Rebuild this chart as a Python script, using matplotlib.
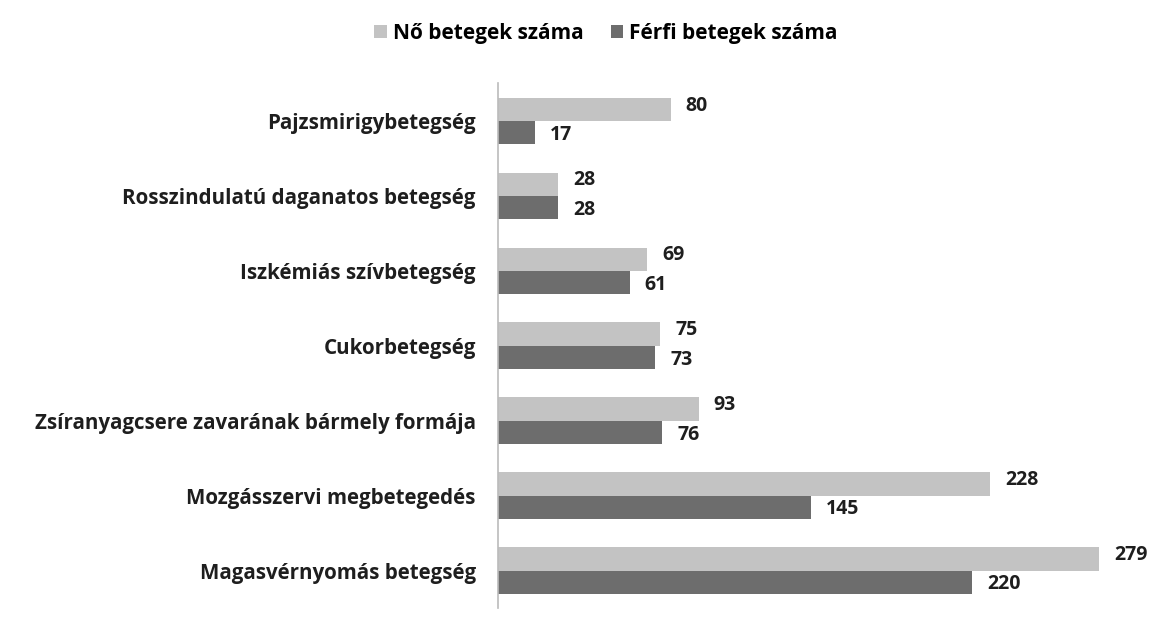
import matplotlib
matplotlib.use("Agg")
import matplotlib.pyplot as plt
import numpy as np

categories = ["Pajzsmirigybetegség", "Rosszindulatú daganatos betegség",
              "Iszkémiás szívbetegség", "Cukorbetegség",
              "Zsíranyagcsere zavarának bármely formája",
              "Mozgásszervi megbetegedés", "Magasvérnyomás betegség"]
female = [80, 28, 69, 75, 93, 228, 279]
male = [17, 28, 61, 73, 76, 145, 220]
series_names = ["Nő betegek száma", "Férfi betegek száma"]

plt.rcParams["font.family"] = ["Open Sans", "DejaVu Sans"]
plt.rcParams["font.weight"] = "bold"

fig = plt.figure(figsize=(11.61, 6.32), dpi=100)
ax = fig.add_axes([0.429, 0.038, 0.557, 0.83])

y = np.arange(len(categories))[::-1]
h = 0.31
c_f, c_m = "#c3c3c3", "#6d6d6d"
ax.barh(y + h / 2, female, height=h, color=c_f, label=series_names[0])
ax.barh(y - h / 2, male, height=h, color=c_m, label=series_names[1])

for yi, v in zip(y, female):
    ax.annotate(str(v), (v, yi + h / 2 + 0.05), xytext=(11, 0), textcoords="offset points",
                va="center", ha="left", fontsize=14, color="#1e1e1e")
for yi, v in zip(y, male):
    ax.annotate(str(v), (v, yi - h / 2 - 0.03), xytext=(11, 0), textcoords="offset points",
                va="center", ha="left", fontsize=14, color="#1e1e1e")

ax.set_yticks(y)
ax.set_yticklabels(categories, fontsize=14.8, color="#1e1e1e")
ax.tick_params(axis="y", length=0, pad=16)
ax.set_xticks([])
ax.set_xlim(0, 300)
ax.set_ylim(-0.5, len(categories) - 0.5)
for s in ["top", "right", "bottom"]:
    ax.spines[s].set_visible(False)
ax.spines["left"].set_color("#bbbbbb")
ax.spines["left"].set_linewidth(1.2)

fig.legend(loc="upper center", bbox_to_anchor=(0.522, 0.993), ncol=2, frameon=False,
           fontsize=15, handlelength=0.6, handleheight=0.6, handletextpad=0.3,
           columnspacing=1.3)

fig.savefig("out.png", dpi=100, facecolor="white")
